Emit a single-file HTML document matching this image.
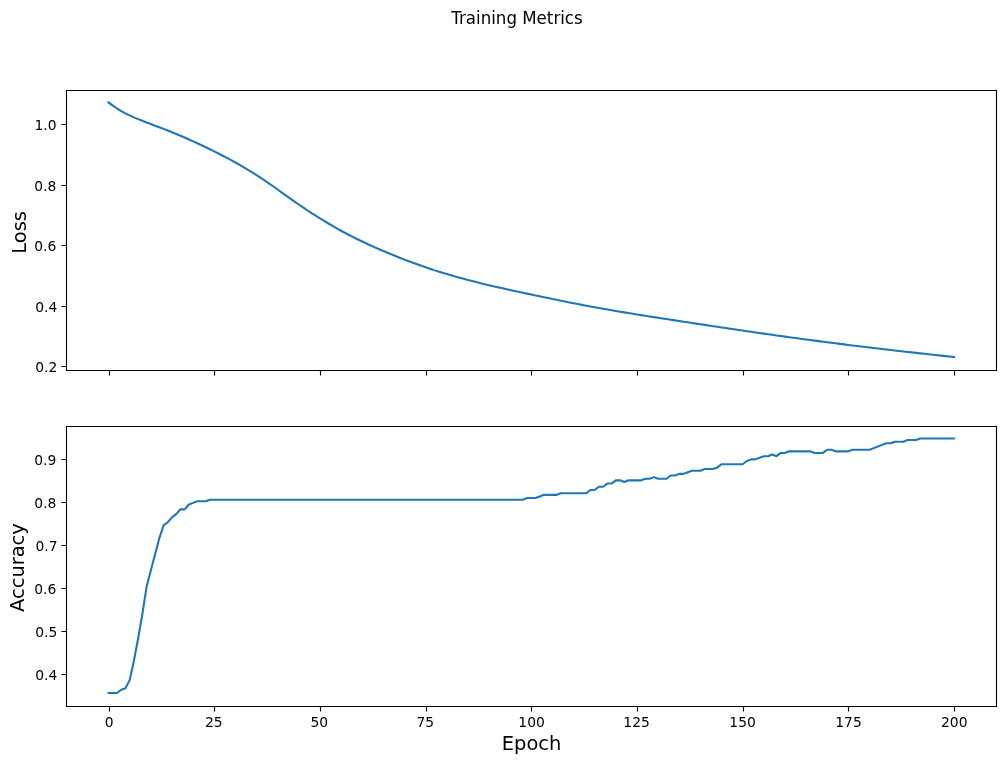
<!DOCTYPE html>
<html lang="en"><head><meta charset="utf-8"><title>Training Metrics</title>
<style>html,body{margin:0;padding:0;background:#fff}body{width:1006px;height:764px;overflow:hidden}svg{display:block}text{font-family:"DejaVu Sans","Liberation Sans",sans-serif;fill:#000}.t10{font-size:13.889px}.t12{font-size:16.667px}.t14{font-size:19.444px}.sp{stroke:#000;stroke-width:1.1111;fill:none;stroke-linecap:square}.tk{stroke:#000;stroke-width:1.1111;fill:none;stroke-linecap:butt}.ln{stroke:#1f77b4;stroke-width:2.0833;fill:none;stroke-linejoin:round;stroke-linecap:square}</style></head><body>
<svg width="1006" height="764" viewBox="0 0 1006 764">
<rect x="0" y="0" width="1006" height="764" fill="#fff"/>
<text class="t12" transform="translate(516.965 24.000) scale(1 1.0833)" text-anchor="middle">Training Metrics</text>
<g>
<polyline class="ln" points="108.55,102.45 112.78,105.66 117.01,108.51 121.23,111.05 125.46,113.34 129.69,115.42 133.91,117.34 138.14,119.13 142.37,120.82 146.60,122.46 150.82,124.06 155.05,125.65 159.28,127.25 163.51,128.87 167.73,130.52 171.96,132.22 176.19,133.96 180.41,135.74 184.64,137.56 188.87,139.43 193.10,141.33 197.32,143.27 201.55,145.25 205.78,147.26 210.01,149.31 214.23,151.41 218.46,153.54 222.69,155.71 226.91,157.93 231.14,160.20 235.37,162.53 239.60,164.91 243.82,167.35 248.05,169.86 252.28,172.45 256.51,175.12 260.73,177.86 264.96,180.68 269.19,183.57 273.41,186.52 277.64,189.51 281.87,192.53 286.10,195.56 290.32,198.58 294.55,201.57 298.78,204.52 303.01,207.41 307.23,210.25 311.46,213.03 315.69,215.74 319.91,218.38 324.14,220.97 328.37,223.49 332.60,225.96 336.82,228.37 341.05,230.73 345.28,233.02 349.51,235.25 353.73,237.42 357.96,239.52 362.19,241.56 366.41,243.55 370.64,245.47 374.87,247.35 379.10,249.19 383.32,251.00 387.55,252.78 391.78,254.53 396.01,256.25 400.23,257.94 404.46,259.60 408.69,261.22 412.91,262.81 417.14,264.35 421.37,265.85 425.60,267.31 429.82,268.74 434.05,270.12 438.28,271.47 442.51,272.78 446.73,274.05 450.96,275.29 455.19,276.50 459.41,277.68 463.64,278.82 467.87,279.94 472.10,281.03 476.32,282.10 480.55,283.15 484.78,284.17 489.01,285.18 493.23,286.16 497.46,287.14 501.69,288.10 505.91,289.04 510.14,289.98 514.37,290.91 518.60,291.83 522.82,292.74 527.05,293.64 531.28,294.54 535.51,295.44 539.73,296.33 543.96,297.22 548.19,298.10 552.41,298.97 556.64,299.84 560.87,300.70 565.10,301.55 569.32,302.40 573.55,303.23 577.78,304.06 582.01,304.87 586.23,305.68 590.46,306.47 594.69,307.25 598.91,308.02 603.14,308.77 607.37,309.52 611.60,310.25 615.82,310.98 620.05,311.69 624.28,312.39 628.51,313.08 632.73,313.77 636.96,314.45 641.19,315.12 645.41,315.79 649.64,316.45 653.87,317.11 658.10,317.77 662.32,318.43 666.55,319.08 670.78,319.73 675.01,320.38 679.23,321.03 683.46,321.68 687.69,322.33 691.91,322.97 696.14,323.62 700.37,324.26 704.60,324.90 708.82,325.54 713.05,326.18 717.28,326.82 721.51,327.45 725.73,328.08 729.96,328.71 734.19,329.34 738.41,329.96 742.64,330.58 746.87,331.20 751.10,331.81 755.32,332.42 759.55,333.03 763.78,333.63 768.01,334.23 772.23,334.83 776.46,335.42 780.69,336.01 784.91,336.60 789.14,337.18 793.37,337.76 797.60,338.34 801.82,338.91 806.05,339.48 810.28,340.04 814.51,340.60 818.73,341.15 822.96,341.71 827.19,342.25 831.41,342.80 835.64,343.34 839.87,343.87 844.10,344.40 848.32,344.93 852.55,345.45 856.78,345.97 861.01,346.49 865.23,347.00 869.46,347.51 873.69,348.01 877.91,348.52 882.14,349.01 886.37,349.51 890.60,350.00 894.82,350.48 899.05,350.97 903.28,351.45 907.51,351.92 911.73,352.40 915.96,352.87 920.19,353.34 924.41,353.80 928.64,354.27 932.87,354.73 937.10,355.18 941.32,355.64 945.55,356.09 949.78,356.55 954.01,356.99"/>
<path class="tk" d="M109.5 370.5V375.5M214.5 370.5V375.5M320.5 370.5V375.5M426.5 370.5V375.5M531.5 370.5V375.5M637.5 370.5V375.5M743.5 370.5V375.5M848.5 370.5V375.5M954.5 370.5V375.5M66.5 124.5H61.5M66.5 185.5H61.5M66.5 245.5H61.5M66.5 306.5H61.5M66.5 366.5H61.5"/>
<path class="sp" d="M66.5 370.5V90.5M996.5 370.5V90.5M66.5 370.5H996.5M66.5 90.5H996.5"/>
<text class="t10" x="56.540" y="129.841" text-anchor="end">1.0</text>
<text class="t10" x="56.404" y="190.870" text-anchor="end">0.8</text>
<text class="t10" x="56.317" y="250.901" text-anchor="end">0.6</text>
<text class="t10" x="57.340" y="311.822" text-anchor="end">0.4</text>
<text class="t10" x="57.329" y="371.846" text-anchor="end">0.2</text>
<text class="t14" transform="translate(25.970 232.408) rotate(-90)" text-anchor="middle">Loss</text>
</g>
<g>
<polyline class="ln" points="108.55,692.99 112.78,692.99 117.01,692.99 121.23,689.77 125.46,688.16 129.69,680.11 133.91,660.77 138.14,638.22 142.37,614.05 146.60,586.67 150.82,570.56 155.05,554.44 159.28,538.33 163.51,525.45 167.73,522.22 171.96,517.39 176.19,514.17 180.41,509.34 184.64,509.34 188.87,504.50 193.10,502.89 197.32,501.28 201.55,501.28 205.78,501.28 210.01,499.67 214.23,499.67 218.46,499.67 222.69,499.67 226.91,499.67 231.14,499.67 235.37,499.67 239.60,499.67 243.82,499.67 248.05,499.67 252.28,499.67 256.51,499.67 260.73,499.67 264.96,499.67 269.19,499.67 273.41,499.67 277.64,499.67 281.87,499.67 286.10,499.67 290.32,499.67 294.55,499.67 298.78,499.67 303.01,499.67 307.23,499.67 311.46,499.67 315.69,499.67 319.91,499.67 324.14,499.67 328.37,499.67 332.60,499.67 336.82,499.67 341.05,499.67 345.28,499.67 349.51,499.67 353.73,499.67 357.96,499.67 362.19,499.67 366.41,499.67 370.64,499.67 374.87,499.67 379.10,499.67 383.32,499.67 387.55,499.67 391.78,499.67 396.01,499.67 400.23,499.67 404.46,499.67 408.69,499.67 412.91,499.67 417.14,499.67 421.37,499.67 425.60,499.67 429.82,499.67 434.05,499.67 438.28,499.67 442.51,499.67 446.73,499.67 450.96,499.67 455.19,499.67 459.41,499.67 463.64,499.67 467.87,499.67 472.10,499.67 476.32,499.67 480.55,499.67 484.78,499.67 489.01,499.67 493.23,499.67 497.46,499.67 501.69,499.67 505.91,499.67 510.14,499.67 514.37,499.67 518.60,499.67 522.82,499.67 527.05,498.06 531.28,498.06 535.51,498.06 539.73,496.45 543.96,494.84 548.19,494.84 552.41,494.84 556.64,494.84 560.87,493.23 565.10,493.23 569.32,493.23 573.55,493.23 577.78,493.23 582.01,493.23 586.23,493.23 590.46,490.00 594.69,490.00 598.91,486.78 603.14,486.78 607.37,483.56 611.60,483.56 615.82,480.34 620.05,480.34 624.28,481.95 628.51,480.34 632.73,480.34 636.96,480.34 641.19,480.34 645.41,478.73 649.64,478.73 653.87,477.11 658.10,478.73 662.32,478.73 666.55,478.73 670.78,475.50 675.01,475.50 679.23,473.89 683.46,473.89 687.69,472.28 691.91,470.67 696.14,470.67 700.37,470.67 704.60,469.06 708.82,469.06 713.05,469.06 717.28,467.45 721.51,464.23 725.73,464.23 729.96,464.23 734.19,464.23 738.41,464.23 742.64,464.23 746.87,461.00 751.10,459.39 755.32,459.39 759.55,457.78 763.78,456.17 768.01,456.17 772.23,454.56 776.46,456.17 780.69,452.95 784.91,452.95 789.14,451.34 793.37,451.34 797.60,451.34 801.82,451.34 806.05,451.34 810.28,451.34 814.51,452.95 818.73,452.95 822.96,452.95 827.19,449.73 831.41,449.73 835.64,451.34 839.87,451.34 844.10,451.34 848.32,451.34 852.55,449.73 856.78,449.73 861.01,449.73 865.23,449.73 869.46,449.73 873.69,448.12 877.91,446.50 882.14,444.89 886.37,443.28 890.60,443.28 894.82,441.67 899.05,441.67 903.28,441.67 907.51,440.06 911.73,440.06 915.96,440.06 920.19,438.45 924.41,438.45 928.64,438.45 932.87,438.45 937.10,438.45 941.32,438.45 945.55,438.45 949.78,438.45 954.01,438.45"/>
<path class="tk" d="M109.5 706.5V711.5M214.5 706.5V711.5M320.5 706.5V711.5M426.5 706.5V711.5M531.5 706.5V711.5M637.5 706.5V711.5M743.5 706.5V711.5M848.5 706.5V711.5M954.5 706.5V711.5M66.5 459.5H61.5M66.5 502.5H61.5M66.5 545.5H61.5M66.5 588.5H61.5M66.5 631.5H61.5M66.5 674.5H61.5"/>
<path class="sp" d="M66.5 706.5V426.5M996.5 706.5V426.5M66.5 706.5H996.5M66.5 426.5H996.5"/>
<text class="t10" x="56.338" y="464.853" text-anchor="end">0.9</text>
<text class="t10" x="56.404" y="507.870" text-anchor="end">0.8</text>
<text class="t10" x="57.511" y="550.902" text-anchor="end">0.7</text>
<text class="t10" x="56.317" y="593.901" text-anchor="end">0.6</text>
<text class="t10" x="57.337" y="636.883" text-anchor="end">0.5</text>
<text class="t10" x="57.340" y="679.822" text-anchor="end">0.4</text>
<text class="t14" transform="translate(23.989 567.575) rotate(-90)" text-anchor="middle">Accuracy</text>
</g>
<text class="t10" x="109.248" y="727.387" text-anchor="middle">0</text>
<text class="t10" x="213.724" y="727.339" text-anchor="middle">25</text>
<text class="t10" x="319.302" y="727.382" text-anchor="middle">50</text>
<text class="t10" x="425.231" y="727.384" text-anchor="middle">75</text>
<text class="t10" x="531.609" y="727.357" text-anchor="middle">100</text>
<text class="t10" x="636.587" y="727.326" text-anchor="middle">125</text>
<text class="t10" x="742.595" y="727.358" text-anchor="middle">150</text>
<text class="t10" x="848.553" y="727.348" text-anchor="middle">175</text>
<text class="t10" x="954.236" y="727.358" text-anchor="middle">200</text>
<text class="t14" x="531.546" y="750.378" text-anchor="middle">Epoch</text>
</svg></body></html>
